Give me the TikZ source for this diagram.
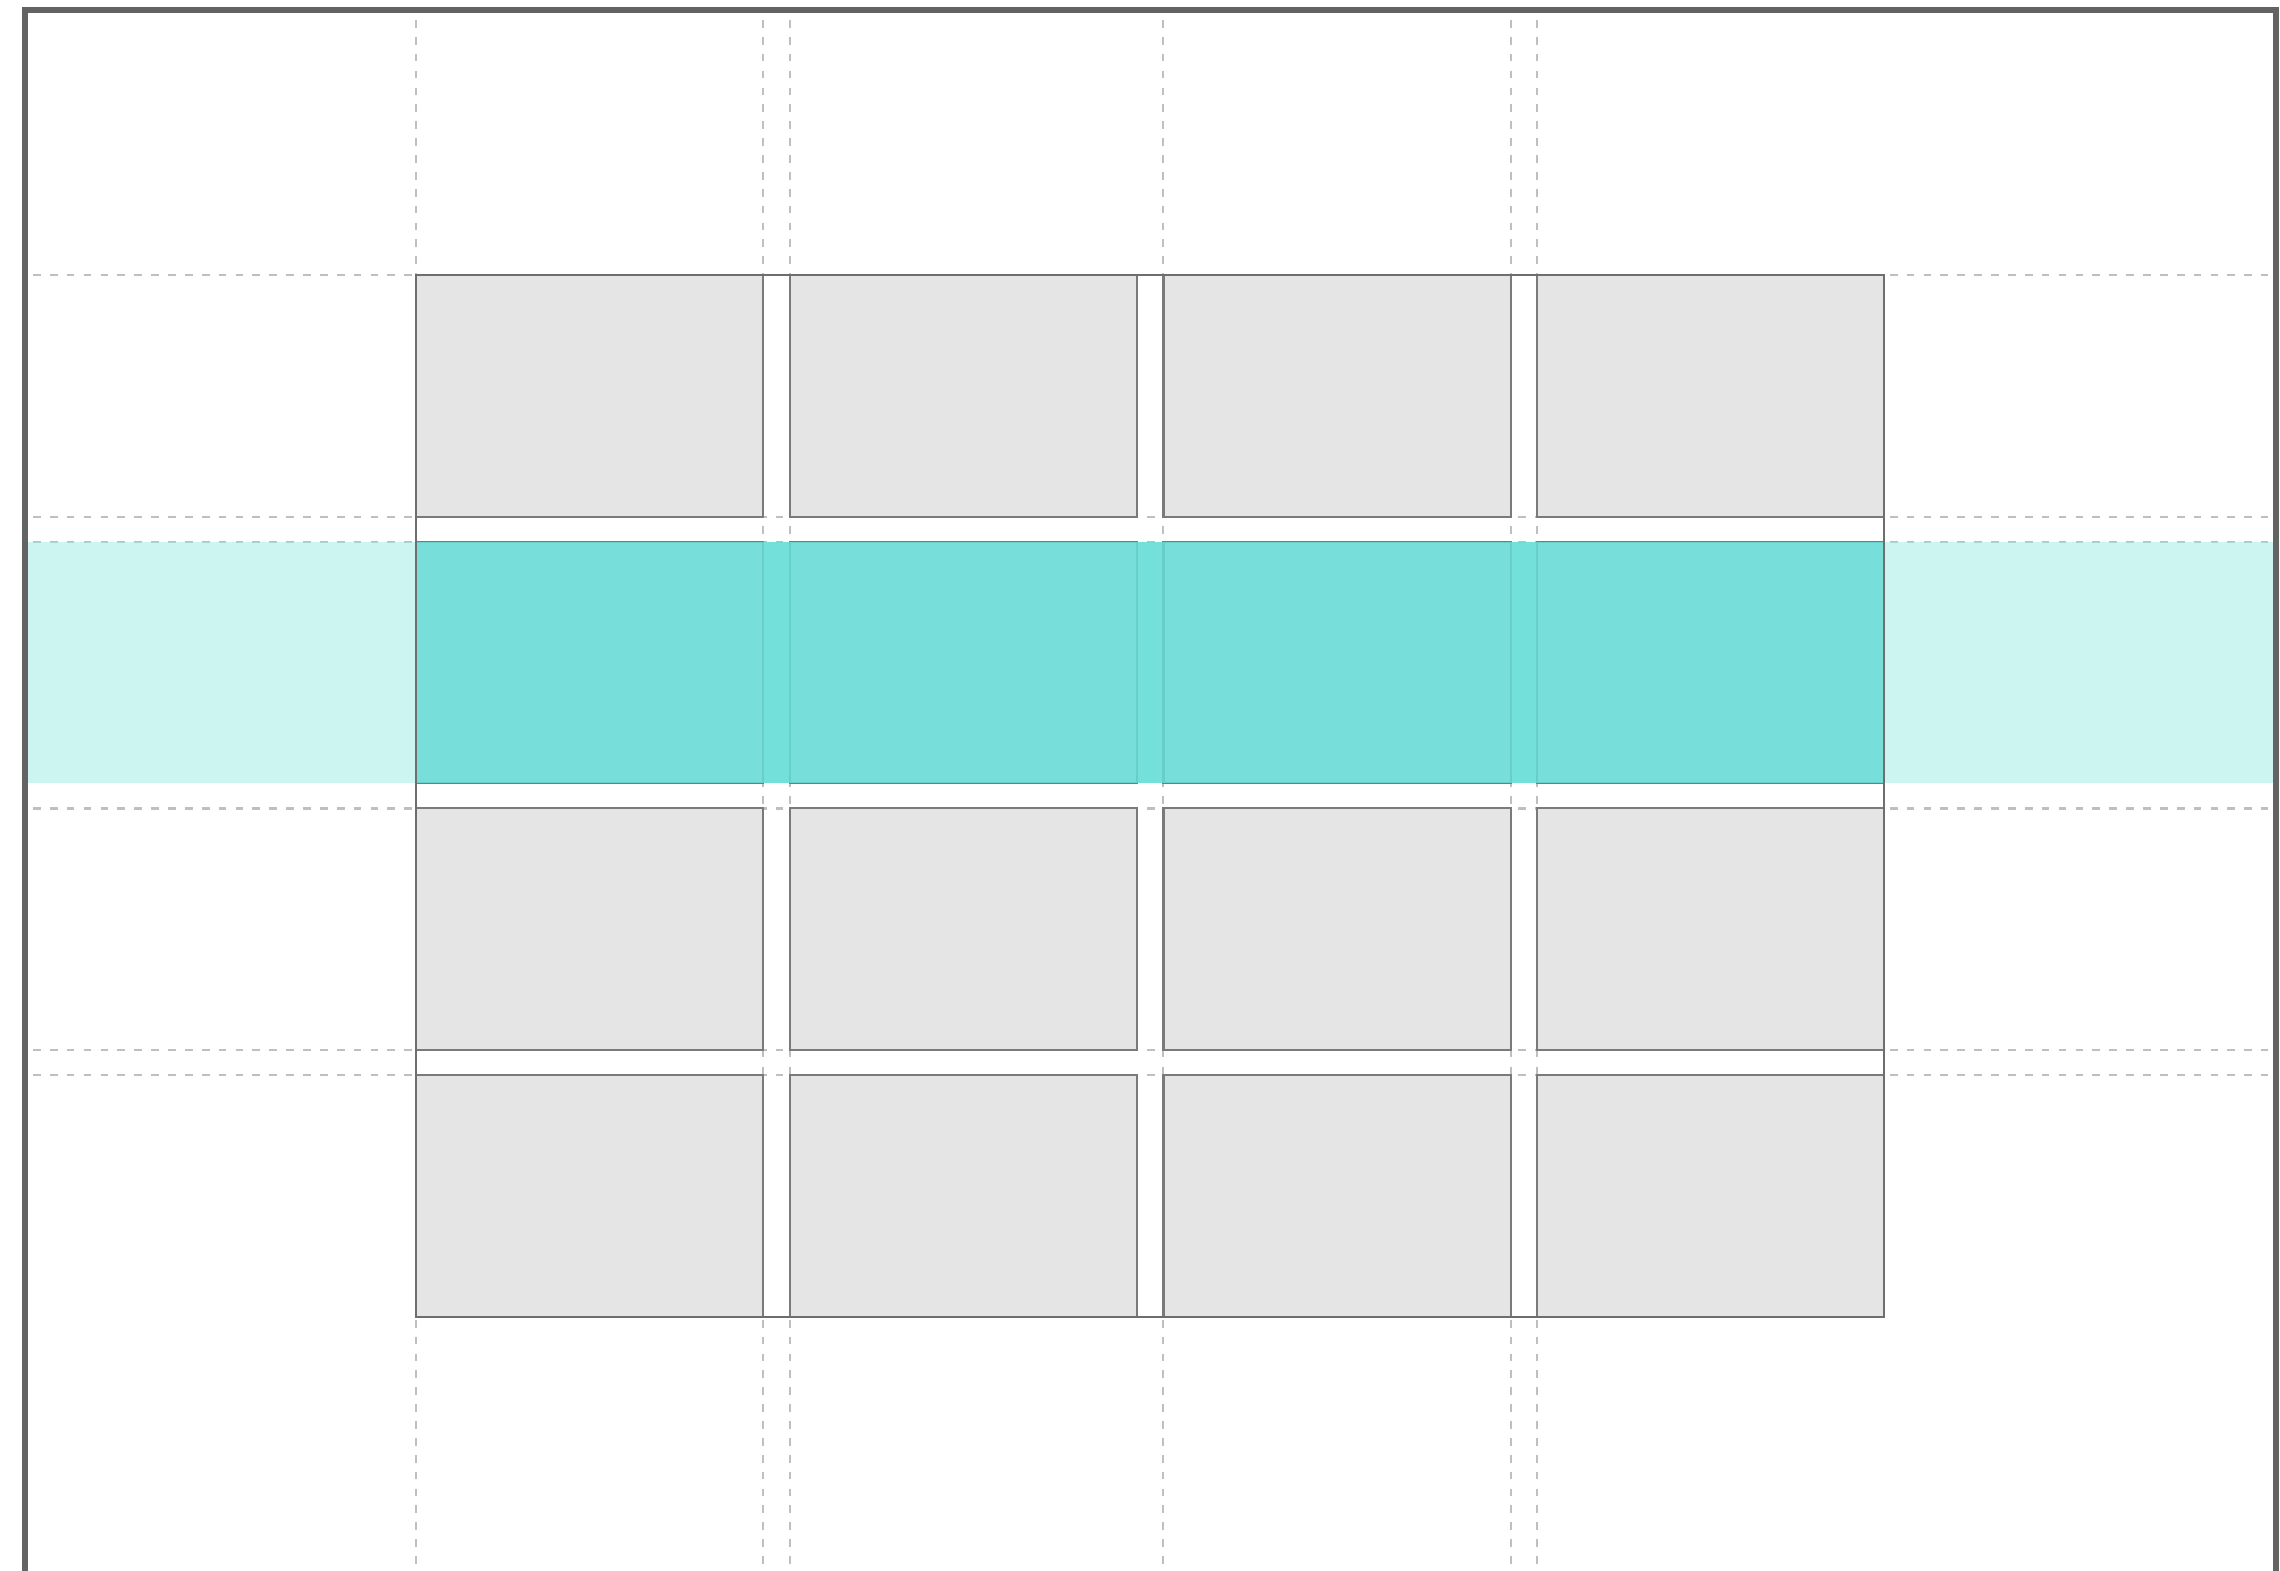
\documentclass[tikz,border=0pt]{standalone}
\usepackage{xcolor}
\usepackage{tikz}
\usetikzlibrary{positioning,backgrounds}

\definecolor{cellgray}{HTML}{E5E5E5}
\definecolor{celledge}{HTML}{7A7A7A}
\definecolor{guidegray}{HTML}{BFBFBF}
\definecolor{trackteal}{HTML}{64DDD7}
\definecolor{trackpale}{HTML}{99EBE3}
\definecolor{framegray}{HTML}{636363}

\begin{document}
\begin{tikzpicture}[
    x=0.01cm, y=-0.01cm,
    node distance=0.25cm,
    cell/.style={rectangle, draw=celledge, fill=cellgray, line width=0.6pt, minimum width=3.47cm, minimum height=2.415cm, inner sep=0pt, outer sep=0pt},
    guide/.style={draw=guidegray, line width=0.55pt, dash pattern=on 2.2pt off 2.6pt},
    boldguide/.style={guide, line width=1pt},
    container/.style={draw=celledge!90!black, line width=0.6pt},
    paleband/.style={fill=trackpale, fill opacity=0.5},
    band/.style={fill=trackteal, fill opacity=0.85},
    frame/.style={draw=framegray, line width=1.5pt}
]
    \useasboundingbox (0,0) rectangle (2280,1570);
    \clip (0,0) rectangle (2280,1570);

    % Ends of the guide lines
    \coordinate (top) at (0,20);
    \coordinate (bot) at (0,1570);
    \coordinate (lft) at (33,0);
    \coordinate (rgt) at (2268,0);
    \coordinate (fl) at (27,0);
    \coordinate (fr) at (2273,0);

    % Row 1
    \node[cell, anchor=north west] (c11) at (416,275) {};
    \node[cell, right=0.265cm of c11] (c12) {};
    \node[cell, right=0.265cm of c12] (c13) {};
    \node[cell, right=0.265cm of c13] (c14) {};

    % Row 2
    \node[cell, below=of c11] (c21) {};
    \node[cell, right=0.265cm of c21] (c22) {};
    \node[cell, right=0.265cm of c22] (c23) {};
    \node[cell, right=0.265cm of c23] (c24) {};

    % Row 3
    \node[cell, below=of c21] (c31) {};
    \node[cell, right=0.265cm of c31] (c32) {};
    \node[cell, right=0.265cm of c32] (c33) {};
    \node[cell, right=0.265cm of c33] (c34) {};

    % Row 4
    \node[cell, below=of c31] (c41) {};
    \node[cell, right=0.265cm of c41] (c42) {};
    \node[cell, right=0.265cm of c42] (c43) {};
    \node[cell, right=0.265cm of c43] (c44) {};

    % Guide lines and pale track, behind the cells
    \begin{scope}[on background layer]
        \draw[guide] (c11.north west |- top) -- (c11.north west |- bot);
        \draw[guide] (c11.north east |- top) -- (c11.north east |- bot);
        \draw[guide] (c12.north west |- top) -- (c12.north west |- bot);
        \draw[guide] (c13.north west |- top) -- (c13.north west |- bot);
        \draw[guide] (c13.north east |- top) -- (c13.north east |- bot);
        \draw[guide] (c14.north west |- top) -- (c14.north west |- bot);

        \draw[guide] (lft |- c11.north) -- (rgt |- c11.north);
        \draw[guide] (lft |- c11.south) -- (rgt |- c11.south);
        \draw[guide] (lft |- c21.north) -- (rgt |- c21.north);
        \draw[boldguide] (lft |- c31.north) -- (rgt |- c31.north);
        \draw[guide] (lft |- c31.south) -- (rgt |- c31.south);
        \draw[guide] (lft |- c41.north) -- (rgt |- c41.north);

        \fill[paleband] (fl |- c21.north) rectangle (fr |- c21.south);
    \end{scope}

    % Highlighted track over row 2
    \fill[band] (c21.north west) rectangle (c24.south east);

    % Grid container
    \draw[container] (c11.north west) rectangle (c44.south east);

    % Frame
    \draw[frame] (25,10) rectangle (2276,1620);
\end{tikzpicture}
\end{document}
